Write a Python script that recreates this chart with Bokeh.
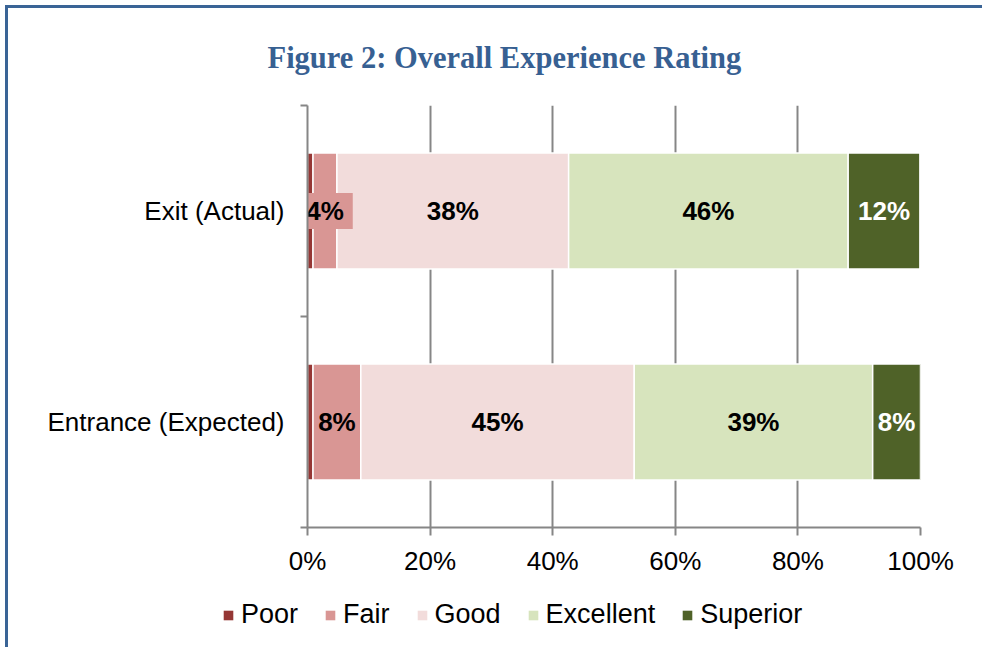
from bokeh.plotting import figure
from bokeh.layouts import column
from bokeh.models import ColumnDataSource, FixedTicker, Legend, LegendItem, Title
from bokeh.core.properties import value
from bokeh.embed import file_html
from bokeh.resources import INLINE

# ---- data ----
groups = ["Entrance (Expected)", "Exit (Actual)"]          # bottom -> top
ratings = ["Poor", "Fair", "Good", "Excellent", "Superior"]
poor = [0.9, 0.9]
fair = [7.8, 3.9]
good = [44.6, 37.8]
excellent = [38.9, 45.6]
superior = [7.8, 11.7]
x_ticks = [0, 20, 40, 60, 80, 100]
x_tick_labels = ["0%", "20%", "40%", "60%", "80%", "100%"]
colors = ["#953735", "#d99694", "#f2dcdb", "#d7e4bd", "#4f6228"]
text_colors = ["black", "black", "black", "black", "white"]

series = [poor, fair, good, excellent, superior]
ypos = [i + 0.5 for i in range(len(groups))]

FONT = "Liberation Sans"
FRAME = "3px solid #3a6496"

p = figure(width=977, height=580, output_backend="svg", toolbar_location=None,
           x_range=(0, 100), y_range=(0, len(groups)),
           min_border_left=299, min_border_right=65, min_border_top=97,
           min_border_bottom=61, outline_line_color=None)
p.styles = {"margin-left": "5px", "margin-top": "5px", "border-left": FRAME, "border-top": FRAME}
p.frame_align = False

p.title = Title(text="Figure 2: Overall Experience Rating", align="left", offset=-40,
                text_font="Liberation Serif", text_font_size="30.5px", text_font_style="bold",
                text_color="#376092", standoff=61)

src = ColumnDataSource(dict(y=ypos, **{r: s for r, s in zip(ratings, series)}))
renderers = p.hbar_stack(ratings, y="y", height=0.55, source=src, color=colors,
                         line_color="white", line_width=1.5)

# labels
for i, r in enumerate(ratings):
    if r == "Poor":
        continue
    lefts = [sum(series[k][j] for k in range(i)) for j in range(len(groups))]
    vals = series[i]
    for j in range(len(groups)):
        xc = lefts[j] + vals[j] / 2
        lab = f"{round(vals[j])}%"
        small = vals[j] < 5
        p.text(x=[xc], y=[ypos[j]], text=[lab], text_align="center", text_baseline="middle",
               text_font=value(FONT), text_font_size="26px", text_font_style="bold",
               text_color=text_colors[i],
               background_fill_color=colors[i] if small else None,
               padding=(9, 3) if small else 0)

# axes
p.xaxis.ticker = FixedTicker(ticks=x_ticks)
p.xaxis.major_label_overrides = {t: l for t, l in zip(x_ticks, x_tick_labels)}
p.xaxis.major_label_text_font = FONT
p.xaxis.major_label_text_font_size = "26px"
p.xaxis.major_label_text_color = "black"
p.xaxis.axis_line_color = "#868686"
p.xaxis.axis_line_width = 2
p.xaxis.major_tick_line_color = "#868686"
p.xaxis.major_tick_line_width = 2
p.xaxis.major_tick_out = 8
p.xaxis.major_tick_in = 0
p.xaxis.minor_tick_line_color = None
p.xaxis.major_label_standoff = 10

p.yaxis.ticker = FixedTicker(ticks=ypos, minor_ticks=list(range(len(groups) + 1)))
p.yaxis.major_label_overrides = {y: g for y, g in zip(ypos, groups)}
p.yaxis.major_label_text_font = FONT
p.yaxis.major_label_text_font_size = "26px"
p.yaxis.major_label_text_color = "black"
p.yaxis.axis_line_color = "#868686"
p.yaxis.axis_line_width = 2
p.yaxis.major_tick_line_color = None
p.yaxis.minor_tick_line_color = "#868686"
p.yaxis.minor_tick_line_width = 2
p.yaxis.minor_tick_out = 7
p.yaxis.minor_tick_in = 0
p.yaxis.major_label_standoff = 16

p.xgrid.grid_line_color = "#868686"
p.xgrid.grid_line_width = 2
p.ygrid.grid_line_color = None

# legend in its own strip below the chart (proxy glyphs hold no drawable point)
lf = figure(width=977, height=62, output_backend="svg", toolbar_location=None,
            x_range=(0, 1), y_range=(0, 1), min_border=0, outline_line_color=None)
lf.styles = {"margin-left": "5px", "border-left": FRAME}
lf.frame_align = False
lf.axis.visible = False
lf.grid.visible = False
proxy = ColumnDataSource(dict(x=[float("nan")], y=[float("nan")]))
items = []
for r, c in zip(ratings, colors):
    rr = lf.rect(x="x", y="y", width=0.1, height=0.1, source=proxy, fill_color=c, line_color=None)
    items.append(LegendItem(label=r, renderers=[rr]))
legend = Legend(items=items, orientation="horizontal", location=(214, 17),
                label_text_font=FONT, label_text_font_size="27px", label_text_color="black",
                glyph_width=12, glyph_height=12, label_standoff=7, spacing=26,
                border_line_color=None, background_fill_alpha=0, margin=0, padding=0)
lf.add_layout(legend, "center")

layout = column(p, lf, spacing=0)
open("out.html", "w").write(file_html(layout, INLINE))
